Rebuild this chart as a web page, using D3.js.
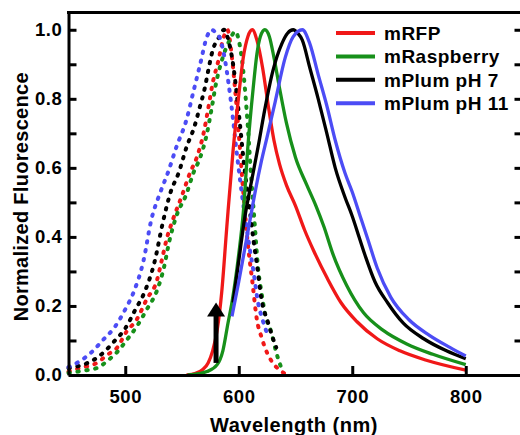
<!DOCTYPE html>
<html>
<head>
<meta charset="utf-8">
<script src="https://cdn.jsdelivr.net/npm/d3@7"></script>
<style>
  body { margin: 0; background: #fff; }
  svg text { font-family: "Liberation Sans", Arial, sans-serif; font-weight: bold; fill: #000; }
</style>
</head>
<body>
<svg id="chart"></svg>
<script>
// series names (legend order)
let seriesNames = ["mRFP", "mRaspberry", "mPlum pH 7", "mPlum pH 11"];

// excitation spectra [wavelength nm, normalized value] (dotted)
let mrfpEx = [[450,0.01],[462,0.022],[475,0.035],[484,0.058],[493,0.08],[501,0.125],[510,0.16],[519,0.22],[528,0.275],[532,0.33],[537,0.40],[542,0.45],[550,0.52],[557,0.585],[563,0.63],[569,0.70],[573,0.77],[577,0.845],[582,0.91],[586,0.97],[590,1.0],[594,0.92],[597,0.82],[600,0.70],[604,0.53],[608,0.38],[612,0.27],[616,0.16],[620,0.11],[625,0.064],[630,0.035],[635,0.017],[640,0.005]];
let mraspEx = [[450,0.006],[462,0.012],[475,0.02],[485,0.043],[493,0.067],[501,0.10],[510,0.14],[519,0.19],[528,0.245],[534,0.31],[539,0.39],[545,0.46],[554,0.525],[560,0.585],[566,0.63],[572,0.70],[576,0.77],[580,0.845],[585,0.91],[592,0.97],[597,0.995],[600,0.97],[604,0.88],[608,0.72],[611,0.57],[614,0.44],[617,0.31],[620,0.24],[623,0.18],[629,0.12],[633,0.066],[637,0.025]];
let mplum7Ex = [[450,0.02],[467,0.035],[476,0.052],[491,0.10],[500,0.135],[509,0.19],[517,0.24],[526,0.33],[533,0.44],[540,0.53],[547,0.585],[554,0.66],[561,0.72],[566,0.78],[570,0.83],[573,0.88],[577,0.94],[583,0.98],[587,1.0],[590,0.98],[595,0.9],[600,0.76],[605,0.6],[610,0.47],[613,0.39],[616,0.32],[620,0.22],[626,0.15],[630,0.107],[633,0.08]];
let mplum11Ex = [[450,0.023],[460,0.04],[470,0.065],[480,0.10],[491,0.14],[500,0.19],[508,0.245],[516,0.33],[523,0.45],[531,0.53],[538,0.59],[545,0.66],[554,0.74],[560,0.82],[566,0.90],[572,0.98],[576,1.0],[580,0.99],[584,0.97],[588,0.91],[591,0.845],[595,0.74],[598,0.65],[601,0.57],[605,0.47],[609,0.38],[613,0.30],[617,0.21],[621,0.16],[625,0.12]];

// emission spectra (solid)
let mrfpEm = [[554,0.0],[562,0.005],[568,0.015],[573,0.035],[577,0.07],[581,0.13],[585,0.24],[589.5,0.43],[595,0.65],[600,0.81],[604,0.92],[608,0.98],[612,1.0],[616,0.97],[621,0.89],[626,0.78],[631,0.68],[636,0.61],[642,0.55],[650,0.49],[658,0.42],[666,0.36],[678,0.28],[690,0.21],[704,0.155],[722,0.105],[742,0.07],[766,0.042],[800,0.014]];
let mraspEm = [[555,0.0],[565,0.004],[572,0.01],[581,0.03],[586,0.07],[590.5,0.15],[594,0.21],[600,0.35],[604,0.47],[608,0.66],[612.7,0.83],[616,0.93],[619,0.98],[623,1.0],[627,0.98],[631,0.92],[636,0.83],[642,0.73],[650,0.63],[660,0.55],[668,0.49],[675,0.43],[683,0.35],[695,0.26],[710,0.18],[727,0.13],[748,0.09],[771,0.06],[800,0.03]];
let mplum7Em = [[595,0.21],[600,0.33],[605,0.45],[610,0.54],[617,0.66],[623,0.77],[630,0.88],[638,0.96],[643,0.99],[648,1.0],[652,0.99],[656,0.97],[662.6,0.89],[670,0.80],[677.6,0.70],[685,0.60],[693.6,0.515],[700,0.46],[706,0.40],[712,0.34],[720,0.27],[731,0.21],[745,0.15],[763,0.105],[783,0.07],[800,0.047]];
let mplum11Em = [[594,0.17],[600,0.27],[605,0.36],[610,0.45],[615,0.54],[620,0.62],[625,0.69],[632,0.79],[641,0.92],[648,0.98],[656,1.0],[662.6,0.96],[670,0.87],[677.6,0.78],[685,0.68],[693.6,0.585],[700,0.53],[707,0.46],[714,0.39],[722,0.31],[734,0.225],[750,0.16],[768,0.115],[786,0.08],[800,0.055]];

// excitation arrow: [wavelength, from, to]
let arrowMark = [580, 0.035, 0.21];

// tick values
let xTicks = [500, 600, 700, 800];
let yTicks = [0, 0.1, 0.2, 0.3, 0.4, 0.5, 0.6, 0.7, 0.8, 0.9, 1.0];

let colors = ["#f01818", "#17901a", "#000000", "#4c4cf5"];

let excitation = [mrfpEx, mraspEx, mplum7Ex, mplum11Ex];
let emission = [mrfpEm, mraspEm, mplum7Em, mplum11Em];

let W = 520, H = 435;
let margin = {left: 68.5, top: 12.5, right: -2.5, bottom: 60};

let svg = d3.select('#chart').attr('width', W).attr('height', H);

let x = d3.scaleLinear().domain([450, 850]).range([margin.left, W - margin.right]);
let y = d3.scaleLinear().domain([0, 1.05]).range([H - margin.bottom, margin.top]);

let line = d3.line()
    .x(d => x(d[0]))
    .y(d => y(d[1]))
    .curve(d3.curveMonotoneX);

// dotted excitation curves
svg.append('g').selectAll('path')
    .data(excitation).enter()
    .append('path')
        .attr('d', line)
        .attr('fill', 'none')
        .attr('stroke', (d, i) => colors[i])
        .attr('stroke-width', 4)
        .attr('stroke-linecap', 'round')
        .attr('stroke-dasharray', '1.4 7.6');

// solid emission curves
svg.append('g').selectAll('path')
    .data(emission).enter()
    .append('path')
        .attr('d', line)
        .attr('fill', 'none')
        .attr('stroke', (d, i) => colors[i])
        .attr('stroke-width', 3.3)
        .attr('stroke-linejoin', 'round');

// arrow
let ax = x(arrowMark[0]);
let headLen = 14, headHalf = 9;
svg.append('line')
    .attr('x1', ax).attr('x2', ax)
    .attr('y1', y(arrowMark[1])).attr('y2', y(arrowMark[2]) + headLen - 1)
    .attr('stroke', '#000').attr('stroke-width', 5);
svg.append('path')
    .attr('d', `M${ax},${y(arrowMark[2])} L${ax + headHalf},${y(arrowMark[2]) + headLen} L${ax - headHalf},${y(arrowMark[2]) + headLen} Z`)
    .attr('fill', '#000');

// axes
let yAxis = d3.axisLeft(y)
    .tickValues(yTicks)
    .tickSizeInner(-8)
    .tickSizeOuter(0)
    .tickPadding(6)
    .tickFormat(d => (Math.round(d * 10) % 2 === 0) ? d3.format('.1f')(d) : '');

let yAxisR = d3.axisRight(y)
    .tickValues(yTicks)
    .tickSizeInner(-8)
    .tickSizeOuter(0)
    .tickFormat('');

let xAxis = d3.axisBottom(x)
    .tickValues(xTicks)
    .tickSizeInner(-9)
    .tickSizeOuter(0)
    .tickPadding(15);

function styleAxis(g) {
    g.selectAll('path, line').attr('stroke', '#000').attr('stroke-width', 3);
    g.selectAll('text').style('font-size', '18.5px').style('letter-spacing', '0.6px').attr('fill', '#000');
}

svg.append('g')
    .attr('transform', `translate(0,${y(0)})`)
    .call(xAxis).call(styleAxis);

svg.append('g')
    .attr('transform', `translate(${x(450)},0)`)
    .call(yAxis).call(styleAxis);

svg.append('g')
    .attr('transform', `translate(${x(850)},0)`)
    .call(yAxisR).call(styleAxis);

// top border
svg.append('line')
    .attr('x1', x(450) - 1.5).attr('x2', x(850))
    .attr('y1', y(1.05)).attr('y2', y(1.05))
    .attr('stroke', '#000').attr('stroke-width', 3);

// axis titles
svg.append('text')
    .attr('x', 294)
    .attr('y', 432)
    .style('font-size', '20px')
    .style('letter-spacing', '0.5px')
    .style('text-anchor', 'middle')
    .text('Wavelength (nm)');

svg.append('text')
    .attr('transform', `translate(28,${(y(0) + y(1.05)) / 2 + 3}) rotate(-90)`)
    .style('font-size', '20px')
    .style('letter-spacing', '0.3px')
    .style('text-anchor', 'middle')
    .text('Normalized Fluorescence');

// legend
let legend = svg.append('g').attr('transform', 'translate(336,33)');
let items = legend.selectAll('g')
    .data(seriesNames).enter()
    .append('g')
        .attr('transform', (d, i) => `translate(0,${i * 23.4})`);

items.append('line')
    .attr('x1', 0).attr('x2', 39)
    .attr('y1', 0).attr('y2', 0)
    .attr('stroke', (d, i) => colors[i])
    .attr('stroke-width', 4);

items.append('text')
    .attr('x', 48)
    .attr('y', 0)
    .attr('dy', '0.36em')
    .style('font-size', '19px')
    .style('letter-spacing', '0.5px')
    .text(d => d);
</script>
</body>
</html>
